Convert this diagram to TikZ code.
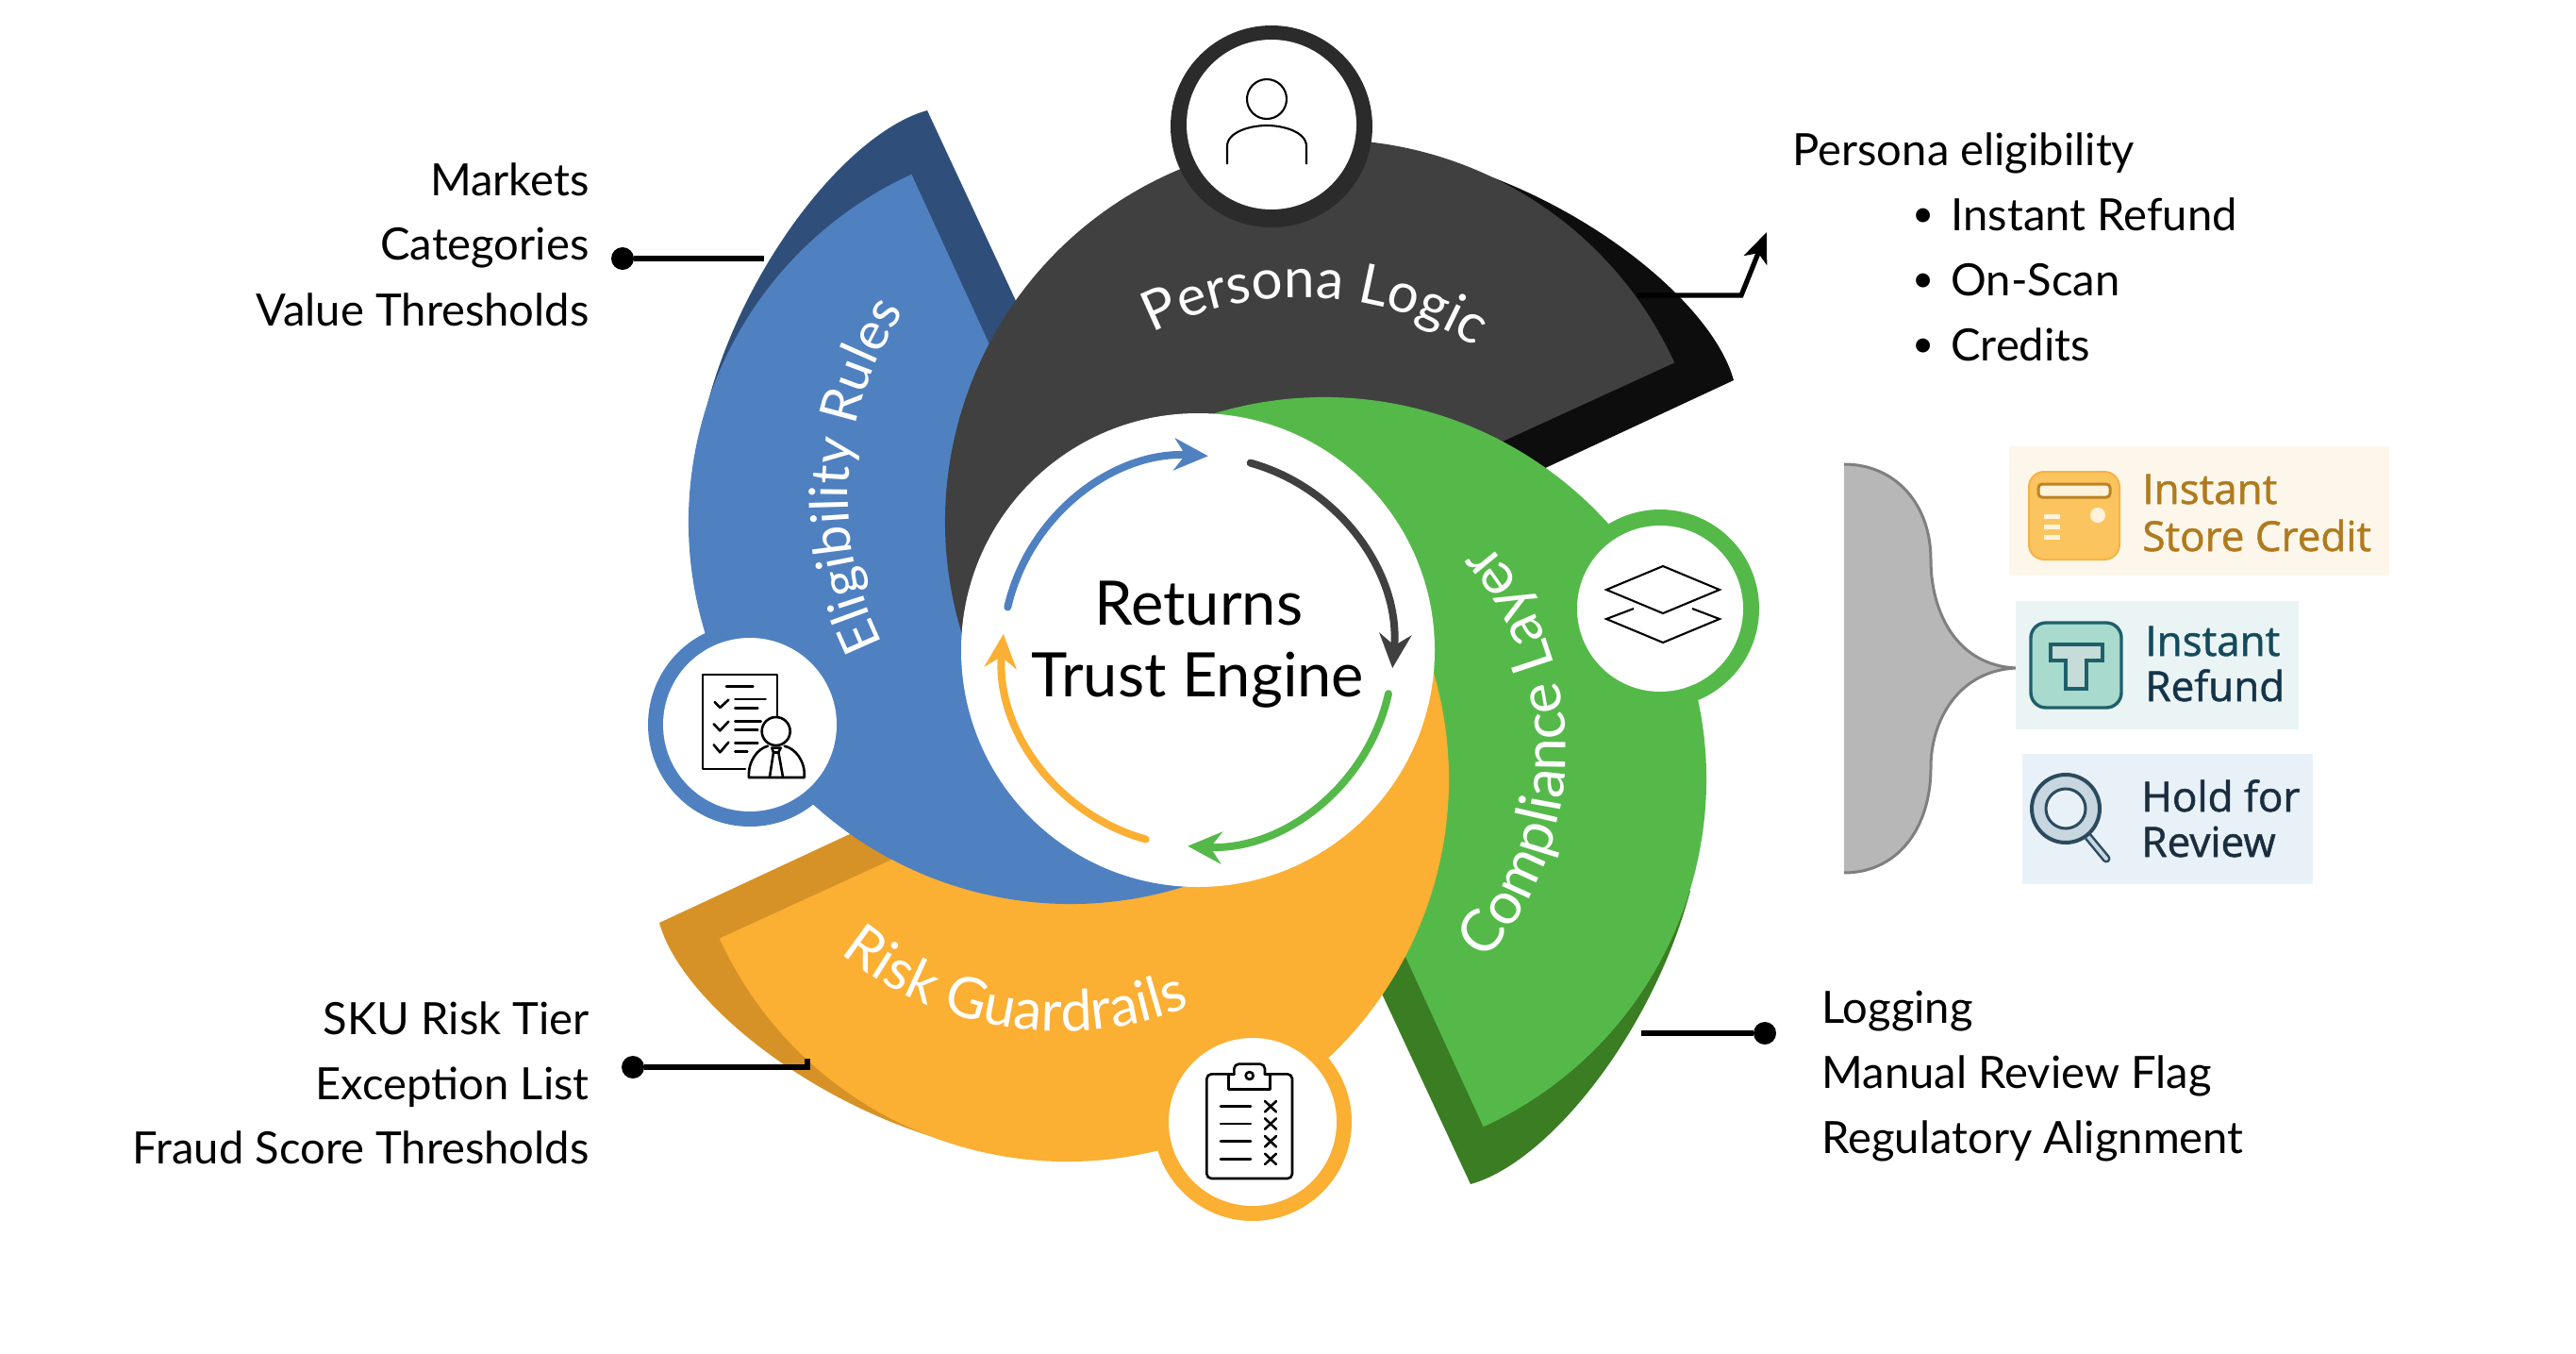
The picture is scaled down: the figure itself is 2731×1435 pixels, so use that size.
\documentclass[tikz,border=0pt]{standalone}
\usepackage{fontspec}
\setmainfont{Lato}
\newfontfamily\boxfont[FakeBold=1.2]{Open Sans}
\usetikzlibrary{arrows.meta,decorations.text}
\definecolor{cblue}{HTML}{4F81C1}
\definecolor{cblueS}{HTML}{2F4F7A}
\definecolor{cgray}{HTML}{404040}
\definecolor{cgrayS}{HTML}{0D0D0D}
\definecolor{cgreen}{HTML}{55B94A}
\definecolor{cgreenS}{HTML}{3A7D23}
\definecolor{corange}{HTML}{FBAF33}
\definecolor{corangeS}{HTML}{D69226}
\definecolor{cring}{HTML}{2B2B2B}
\definecolor{braceF}{HTML}{B7B7B7}
\definecolor{braceL}{HTML}{7F7F7F}
\definecolor{boxA}{HTML}{FDF7EB}
\definecolor{iconA}{HTML}{FBC45E}
\definecolor{iconAl}{HTML}{F6B246}
\definecolor{creamA}{HTML}{FFF3DC}
\definecolor{edgeA}{HTML}{BE8223}
\definecolor{textA}{HTML}{B07A1E}
\definecolor{boxB}{HTML}{EAF4F4}
\definecolor{iconB}{HTML}{A8DACD}
\definecolor{edgeB}{HTML}{1F5F6B}
\definecolor{paleB}{HTML}{C5DCD8}
\definecolor{textB}{HTML}{154A5C}
\definecolor{textBb}{HTML}{14344A}
\definecolor{boxC}{HTML}{E9F1F8}
\definecolor{iconC}{HTML}{C7D6DF}
\definecolor{edgeC}{HTML}{2C4A5E}
\definecolor{textC}{HTML}{1B2E3F}
\newcommand{\wingsector}[5]{\fill[#5] (#1,#2) ++(#3:202.5pt) arc[start angle=#3,end angle=#4,radius=202.5pt] -- (#1,#2) -- cycle;}
\newcommand{\wingshadow}[4]{\begin{scope}[shift={(#1,#2)},rotate=#3]\fill[#4] (-385,-125) .. controls (-345,-275) and (-235,-413) .. (-152,-436) -- (51,0) -- cycle;\end{scope}}
\newcommand{\curvefont}[1]{\color{white}\fontsize{#1pt}{32pt}\selectfont}
\tikzset{
  lbl/.style={font=\fontsize{23.6pt}{27pt}\selectfont,inner sep=0pt,text=black},
  lblE/.style={lbl,anchor=base east},
  lblW/.style={lbl,anchor=base west},
  bul/.style={font=\fontsize{20pt}{22pt}\selectfont,inner sep=0pt,text=black,anchor=base},
  centerlbl/.style={font=\fontsize{32.5pt}{36pt}\selectfont,inner sep=0pt,anchor=base,text=black},
  dotnode/.style={circle,fill=black,inner sep=0pt,minimum size=12pt},
  conn/.style={line width=2.6pt,black},
  cyc/.style={line width=4pt,line cap=round},
  cychead/.style={-{Stealth[length=18pt,width=17pt,inset=6pt]}},
  ico/.style={line width=1.3pt,black,line cap=round,line join=round},
  thinico/.style={line width=1.05pt,black},
  boxtxt/.style={font=\boxfont\fontsize{22pt}{25pt}\selectfont,inner sep=0pt,anchor=base west},
}
\begin{document}
\begin{tikzpicture}[x=0.5pt,y=0.5pt]
\begin{scope}[yscale=-1]
\useasboundingbox (0,0) rectangle (2731,1435);
% shadows
\wingshadow{1135}{553}{0}{cblueS}
\wingshadow{1402}{555}{90}{cgrayS}
\wingshadow{1407}{819}{180}{cgreenS}
\wingshadow{1135}{826}{270}{corangeS}
% sectors
\wingsector{1135}{553}{245.4}{72}{cblue}
\wingsector{1407}{553}{335.4}{162}{cgray}
\wingsector{1404}{826}{65.4}{-108}{cgreen}
\wingsector{1131}{826}{155.4}{-18}{corange}
\begin{scope}
\clip (700,680) rectangle (1400,1000);
\wingsector{1135}{553}{245.4}{72}{cblue}
\end{scope}
% centre
\fill[white] (1270,689) circle[radius=125.5pt];
% rings
\fill[cring] (1348,134) circle[radius=53.5pt];
\fill[white] (1348,132) circle[radius=45pt];
\fill[cblue] (795,768) circle[radius=54pt];
\fill[white] (795,768) circle[radius=46pt];
\fill[corange] (1328,1189) circle[radius=52.5pt];
\fill[white] (1328,1189) circle[radius=44.5pt];
\fill[cgreen] (1760,645) circle[radius=52.5pt];
\fill[white] (1760,645) circle[radius=44pt];
% cycle arrows
\draw[cyc,cblue,cychead] (1270,690) ++(193:103.5pt) arc[start angle=193,end angle=273,radius=103.5pt];
\draw[cyc,cgray,cychead] (1270,690) ++(285.6:103.5pt) arc[start angle=285.6,end angle=365,radius=103.5pt];
\draw[cyc,cgreen,cychead] (1270,690) ++(12.6:103.5pt) arc[start angle=12.6,end angle=93,radius=103.5pt];
\draw[cyc,corange,cychead] (1270,690) ++(105.5:103.5pt) arc[start angle=105.5,end angle=185,radius=103.5pt];
% centre text
\node[centerlbl] (c1) at (1271,662) {Returns};
\node[centerlbl] (c2) at (1270,738) {Trust Engine};
% left labels
\node[lblE] (m1) at (625,207) {Markets};
\node[lblE] (m2) at (625,275) {Categories};
\node[lblE] (m3) at (625,345) {Value Thresholds};
\node[lblE] (s1) at (625,1096) {SKU Risk Tier};
\node[lblE] (s2) at (625,1165) {Exception List};
\node[lblE] (s3) at (625,1233) {Fraud Score Thresholds};
% right labels
\node[lblW] (p0) at (1900,175) {Persona eligibility};
\node[bul] (b1) at (2039,240) {•};
\node[bul] (b2) at (2039,309) {•};
\node[bul] (b3) at (2039,378) {•};
\node[lblW] (p1) at (2068,244) {Instant Refund};
\node[lblW] (p2) at (2068,313) {On-Scan};
\node[lblW] (p3) at (2068,382) {Credits};
\node[lblW] (l1) at (1931,1084) {Logging};
\node[lblW] (l2) at (1931,1153) {Manual Review Flag};
\node[lblW] (l3) at (1931,1222) {Regulatory Alignment};
% connectors
\node[dotnode] (d1) at (660,274) {};
\coordinate (e1) at (810,274);
\draw[conn] (d1) -- (e1);
\node[dotnode] (d2) at (671,1131) {};
\coordinate (e2) at (856,1131);
\coordinate (e2b) at (856,1122);
\draw[conn] (d2) -- (e2) -- (e2b);
\node[dotnode] (d3) at (1871,1095) {};
\coordinate (e3) at (1740,1095);
\draw[conn] (e3) -- (d3);
\coordinate (a1) at (1736,313);
\coordinate (a2) at (1846,313);
\coordinate (a3) at (1873,246);
\draw[conn,-{Stealth[length=16pt,width=13pt,inset=4pt]}] (a1) -- (a2) -- (a3);
% persona icon
\draw[thinico] (1343,105) circle[radius=10.5pt];
\draw[thinico] (1301,174) -- (1301,155) .. controls (1301,140) and (1325,133) .. (1343,133) .. controls (1361,133) and (1385,140) .. (1385,155) -- (1385,174);
% layers icon
\draw[thinico,line join=miter] (1703,625) -- (1763,600) -- (1823,625) -- (1763,650) -- cycle;
\draw[thinico,line join=miter] (1732,645) -- (1703,656) -- (1763,681) -- (1823,656) -- (1794,645);
% document person icon
\begin{scope}[shift={(680,660)},x=0.16667pt,y=0.16667pt]
\draw[ico] (432,295) -- (432,165) -- (195,165) -- (195,465) -- (330,465);
\draw[ico] (270,203) -- (355,203);
\draw[ico] (298,243) -- (395,243);
\draw[ico] (298,272) -- (370,272);
\draw[ico] (298,313) -- (380,313);
\draw[ico] (298,340) -- (370,340);
\draw[ico] (298,382) -- (370,382);
\draw[ico] (298,410) -- (337,410);
\draw[ico] (233,252) -- (250,270) -- (277,245);
\draw[ico] (230,322) -- (250,343) -- (277,314);
\draw[ico] (230,388) -- (250,412) -- (277,380);
\draw[ico] (428,345) circle[radius=7.5pt];
\draw[ico] (342,492) -- (518,492) .. controls (522,440) and (490,400) .. (455,392);
\draw[ico] (342,492) .. controls (338,440) and (370,400) .. (402,392);
\draw[ico] (408,490) -- (420,412) -- (415,398) -- (443,398) -- (436,412) -- (450,490);
\draw[ico] (420,412) -- (436,412);
\end{scope}
% clipboard icon
\begin{scope}[shift={(1230,1100)},x=0.16667pt,y=0.16667pt]
\draw[ico,rounded corners=2.5pt] (235,115) -- (148,115) -- (148,447) -- (420,447) -- (420,115) -- (333,115);
\draw[ico] (218,115) -- (218,163) -- (350,163) -- (350,115) -- (333,115);
\draw[ico] (218,115) -- (235,115);
\draw[ico,rounded corners=2.5pt] (235,115) -- (235,83) -- (333,83) -- (333,115);
\draw[ico] (284,120) circle[radius=2pt];
\foreach \yy in {218,273,329,385}{
  \draw[ico] (192,\yy) -- (288,\yy);
  \draw[ico] (333,\yy-17) -- (369,\yy+17);
  \draw[ico] (369,\yy-17) -- (333,\yy+17);
}
\end{scope}
% brace
\fill[braceF] (1955,492) .. controls (2010,492) and (2047,535) .. (2047,593) .. controls (2047,650) and (2075,705) .. (2137,708) .. controls (2075,711) and (2047,765) .. (2047,813) .. controls (2047,880) and (2010,925) .. (1955,925) -- cycle;
\draw[line width=1.5pt,braceL] (1955,492) .. controls (2010,492) and (2047,535) .. (2047,593) .. controls (2047,650) and (2075,705) .. (2137,708) .. controls (2075,711) and (2047,765) .. (2047,813) .. controls (2047,880) and (2010,925) .. (1955,925);
% box 1
\fill[boxA] (2130,473) rectangle (2533,610);
\filldraw[fill=iconA,draw=iconAl,line width=1pt,rounded corners=8pt] (2151,500) rectangle (2247,593);
\filldraw[fill=creamA,draw=edgeA,line width=1.5pt,rounded corners=2pt] (2161,513) rectangle (2237,527);
\fill[creamA] (2224,546) circle[radius=4pt];
\foreach \yy in {547,558,569}{\draw[line width=2.5pt,creamA] (2167,\yy) -- (2184,\yy);}
\node[boxtxt,text=textA] (t1) at (2271,534) {Instant};
\node[boxtxt,text=textA] (t2) at (2271,584) {Store Credit};
% box 2
\fill[boxB] (2137,637) rectangle (2437,773);
\filldraw[fill=iconB,draw=edgeB,line width=1.7pt,rounded corners=8pt] (2153,660) rectangle (2249,750);
\filldraw[fill=paleB,draw=edgeB,line width=2pt] (2174,683) -- (2229,683) -- (2229,700) -- (2212,700) -- (2212,730) -- (2190,730) -- (2190,700) -- (2174,700) -- cycle;
\node[boxtxt,text=textB] (t3) at (2274,695) {Instant};
\node[boxtxt,text=textBb] (t4) at (2274,743) {Refund};
% box 3
\fill[boxC] (2143.5,799) rectangle (2451.5,937);
\draw[line width=4.5pt,edgeC,line cap=round] (2214,887) -- (2233,910);
\draw[line width=2pt,iconC,line cap=round] (2214,887) -- (2233,910);
\filldraw[fill=iconC,draw=edgeC,line width=2pt] (2190,857) circle[radius=18pt];
\filldraw[fill=boxC,draw=edgeC,line width=1.5pt] (2190,857) circle[radius=10.5pt];
\node[boxtxt,text=textC] (t5) at (2270,860) {Hold for};
\node[boxtxt,text=textC] (t6) at (2270,908) {Review};
\end{scope}
% curved labels (unflipped coordinates)
\path[decoration={text along path,text={|\curvefont{29.2}|Persona Logic},text align=center},decorate]
  (1380,-664) ++(121.7:174.5pt) arc[start angle=121.7,end angle=53.4,radius=174.5pt];
\path[decoration={text along path,text={|\curvefont{28}|Eligibility Rules},text align=center},decorate]
  (1249,-526) ++(210.2:175pt) arc[start angle=210.2,end angle=142.3,radius=175pt];
\path[decoration={text along path,text={|\curvefont{31}|Compliance Layer},text align=center},decorate]
  (1327,-795) ++(-45:166.5pt) arc[start angle=-45,end angle=44.2,radius=166.5pt];
\path[decoration={text along path,text={|\curvefont{30}|Risk Guardrails},text align=center},decorate]
  (1125,-721) ++(-134:186pt) arc[start angle=-134,end angle=-63.4,radius=186pt];
\end{tikzpicture}
\end{document}
